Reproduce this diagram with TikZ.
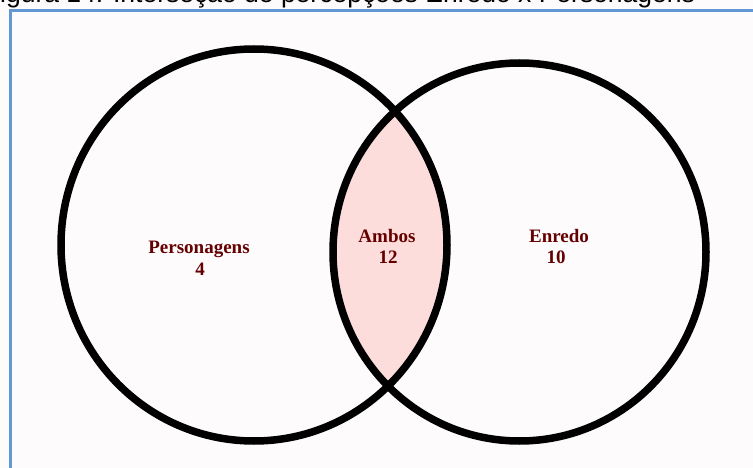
\documentclass[tikz,border=0pt]{standalone}
\usepackage{fontspec}
\setmainfont{Liberation Serif}
\newfontfamily\capfont{Liberation Sans}
\definecolor{bgc}{RGB}{254,251,253}
\definecolor{framec}{RGB}{100,152,212}
\definecolor{lensc}{RGB}{253,221,219}
\definecolor{labc}{RGB}{100,0,0}
\begin{document}
\begin{tikzpicture}[x=1pt,y=-1pt,
  ring/.style={draw=black, line width=7.5pt},
  lab/.style={inner sep=0pt, anchor=base, text=labc, font=\fontsize{19}{22}\selectfont\bfseries},
  capt/.style={inner sep=0pt, anchor=base west, font=\capfont\fontsize{26.5}{30}\selectfont}]
\useasboundingbox (0,0) rectangle (753,468);
\clip (0,0) rectangle (753,468);
\fill[bgc] (0,0) rectangle (753,468);
% caption (cut off at top)
\node[capt] (cap) at (-16.2,2.5) {Figura 14: Interseção de percepções Enredo x Personagens};
% frame
\coordinate (fbl) at (10,480);
\coordinate (ftl) at (10,10.5);
\coordinate (ftr) at (770,10.5);
\draw[framec, line width=3pt] (fbl) -- (ftl) -- (ftr);
% circle centres
\coordinate (cl) at (254,245);
\coordinate (cr) at (519.5,252);
% lens
\begin{scope}
  \clip (cl) ellipse [x radius=193pt, y radius=196pt];
  \fill[lensc] (cr) ellipse [x radius=186.5pt, y radius=189pt];
\end{scope}
\draw[ring] (cl) ellipse [x radius=193pt, y radius=196pt];
\draw[ring] (cr) ellipse [x radius=186.5pt, y radius=189pt];
% labels
\node[lab] (pers) at (199,253) {Personagens};
\node[lab] (persn) at (200,275) {4};
\node[lab] (amb) at (387,242) {Ambos};
\node[lab] (ambn) at (388,263) {12};
\node[lab] (enr) at (559,243) {Enredo};
\node[lab] (enrn) at (556,263) {10};
\end{tikzpicture}
\end{document}
